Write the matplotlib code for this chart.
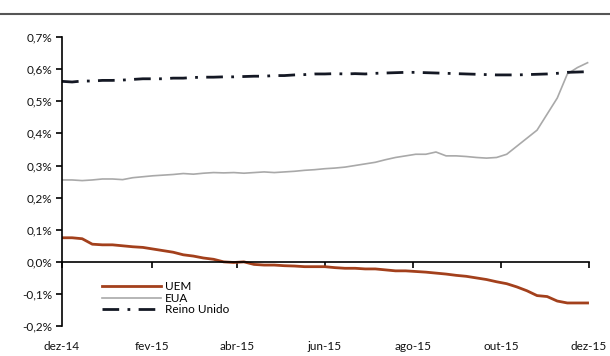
import numpy as np
import pandas as pd
import matplotlib
matplotlib.use("Agg")
import matplotlib.pyplot as plt
from matplotlib.lines import Line2D

plt.rcParams['font.family'] = ['Lato', 'DejaVu Sans']

# weekly observations, Dec 2014 - Nov 2015 (percent)
dates = pd.date_range("2014-12-01", periods=53, freq="7D")

uem = [0.075, 0.075, 0.072, 0.055, 0.053, 0.053, 0.050, 0.047, 0.045, 0.040,
       0.035, 0.030, 0.022, 0.018, 0.012, 0.008, 0.000, -0.002, 0.000, -0.008,
       -0.010, -0.010, -0.012, -0.013, -0.015, -0.015, -0.015, -0.018, -0.020, -0.020,
       -0.022, -0.022, -0.025, -0.028, -0.028, -0.030, -0.032, -0.035, -0.038, -0.042,
       -0.045, -0.050, -0.055, -0.062, -0.068, -0.078, -0.090, -0.105, -0.108, -0.122,
       -0.128, -0.128, -0.128]

eua = [0.255, 0.255, 0.253, 0.255, 0.258, 0.258, 0.256, 0.262, 0.265, 0.268,
       0.270, 0.272, 0.275, 0.273, 0.276, 0.278, 0.277, 0.278, 0.276, 0.278,
       0.280, 0.278, 0.280, 0.282, 0.285, 0.287, 0.290, 0.292, 0.295, 0.300,
       0.305, 0.310, 0.318, 0.325, 0.330, 0.335, 0.335, 0.342, 0.330, 0.330,
       0.328, 0.325, 0.323, 0.325, 0.335, 0.360, 0.385, 0.410, 0.460, 0.510,
       0.585, 0.605, 0.620]

reino_unido = [0.562, 0.560, 0.563, 0.563, 0.565, 0.565, 0.566, 0.568, 0.570, 0.570,
               0.570, 0.572, 0.572, 0.574, 0.575, 0.575, 0.576, 0.576, 0.577, 0.578,
               0.578, 0.580, 0.580, 0.582, 0.583, 0.585, 0.585, 0.586, 0.585, 0.586,
               0.585, 0.587, 0.588, 0.589, 0.590, 0.590, 0.589, 0.588, 0.587, 0.586,
               0.585, 0.584, 0.583, 0.582, 0.582, 0.582, 0.583, 0.584, 0.585, 0.587,
               0.590, 0.591, 0.592]

tick_dates = pd.to_datetime(["2014-12-01", "2015-02-01", "2015-04-01", "2015-06-01",
                             "2015-08-01", "2015-10-01", "2015-12-01"])
tick_labels = ["dez-14", "fev-15", "abr-15", "jun-15", "ago-15", "out-15", "dez-15"]
y_ticks = [-0.2, -0.1, 0.0, 0.1, 0.2, 0.3, 0.4, 0.5, 0.6, 0.7]

fig = plt.figure(figsize=(6.1, 3.56), dpi=100)
ax = fig.add_axes([0.1016, 0.084, 0.864, 0.812])

ax.plot(dates, uem, color="#a3401c", lw=2.0, label="UEM")
ax.plot(dates, eua, color="#a9a9a9", lw=1.2, label="EUA")
ax.plot(dates, reino_unido, color="#141824", lw=2.0,
        dashes=(6, 3, 1, 3), label="Reino Unido")

ax.set_xlim(tick_dates[0], tick_dates[-1])
ax.set_ylim(-0.2, 0.7)

# x axis drawn at zero, labels kept at the bottom
ax.spines["bottom"].set_position(("data", 0))
ax.spines["top"].set_visible(False)
ax.spines["right"].set_visible(False)
ax.spines["left"].set_linewidth(1.2)
ax.spines["bottom"].set_linewidth(1.2)

ax.set_xticks(tick_dates)
ax.set_xticklabels(tick_labels)
ax.set_yticks(y_ticks)
ax.set_yticklabels([f"{v:.1f}%".replace(".", ",") for v in y_ticks])
ax.tick_params(axis="x", direction="out", length=4, width=1.2, pad=53,
               labelsize=8.5, labelcolor="#111111")
ax.tick_params(axis="y", direction="out", length=4, width=1.2, pad=3,
               labelsize=8.5, labelcolor="#111111")

handles = [Line2D([], [], color="#a3401c", lw=2.0),
           Line2D([], [], color="#a9a9a9", lw=1.2),
           Line2D([], [], color="#141824", lw=2.0, dashes=(6, 3, 1, 3))]
ax.legend(handles, ["UEM", "EUA", "Reino Unido"], loc="lower left",
          bbox_to_anchor=(0.055, 0.0), frameon=False, fontsize=8.5,
          handlelength=5.0, handletextpad=0.4, labelspacing=0.05)

# rule across the top of the page
fig.add_artist(Line2D([0, 1], [1 - 14 / 356, 1 - 14 / 356], color="#555555", lw=1.5))

fig.savefig("out.png", dpi=100)
